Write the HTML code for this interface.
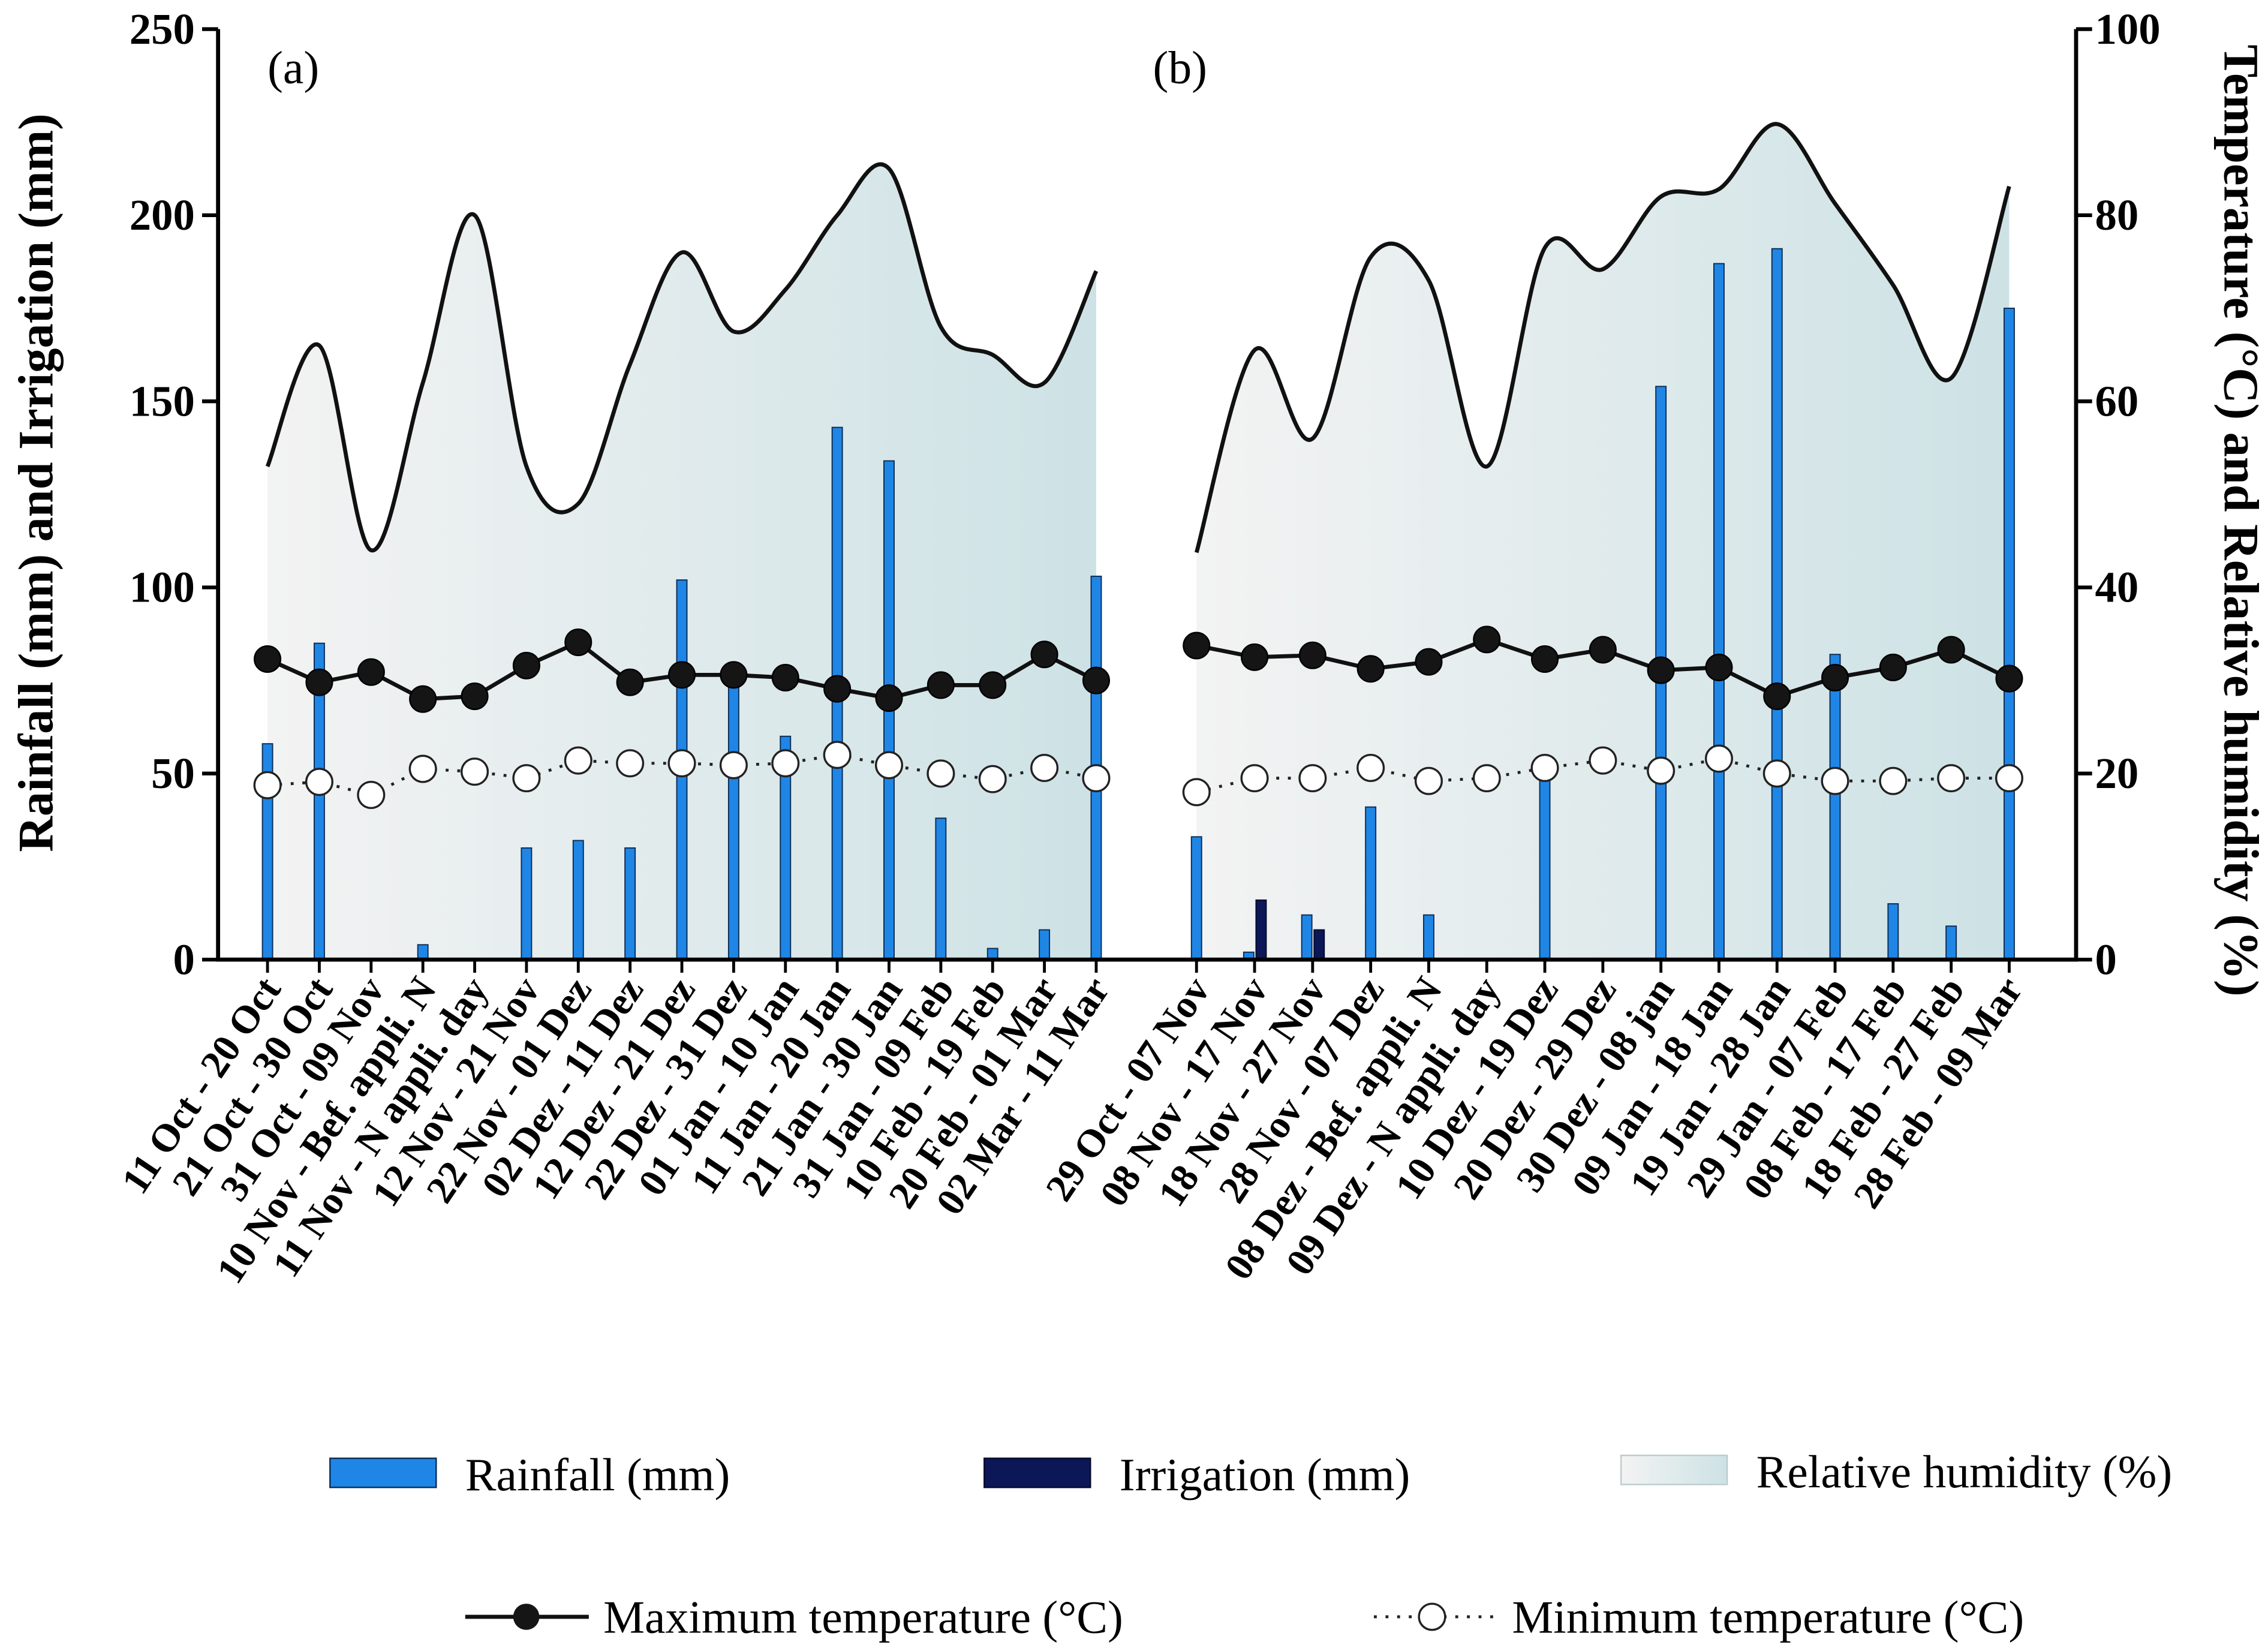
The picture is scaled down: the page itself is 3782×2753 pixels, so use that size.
<!DOCTYPE html>
<html><head><meta charset="utf-8"><style>html,body{margin:0;padding:0;background:#fff}svg{display:block}text{font-family:"Liberation Serif",serif}</style></head>
<body>
<svg id="chart" width="3782" height="2753" viewBox="0 0 1560 1135.5" xmlns="http://www.w3.org/2000/svg">
<defs>
<linearGradient id="rhg" x1="0" x2="1" y1="0" y2="0"><stop offset="0" stop-color="#f3f3f3"/><stop offset="1" stop-color="#cde2e5"/></linearGradient>
</defs>
<g id="plot"></g>
</svg>
<script>
const catsA=["11 Oct - 20 Oct","21 Oct - 30 Oct","31 Oct - 09 Nov","10 Nov - Bef. appli. N","11 Nov - N appli. day","12 Nov - 21 Nov","22 Nov - 01 Dez","02 Dez - 11 Dez","12 Dez - 21 Dez","22 Dez - 31 Dez","01 Jan - 10 Jan","11 Jan - 20 Jan","21 Jan - 30 Jan","31 Jan - 09 Feb","10 Feb - 19 Feb","20 Feb - 01 Mar","02 Mar - 11 Mar"];
const rainA=[58,85,0,4,0,30,32,30,102,77,60,143,134,38,3,8,103];
const irrA=[0,0,0,0,0,0,0,0,0,0,0,0,0,0,0,0,0];
const tmaxA=[32.3,29.8,30.9,28.0,28.3,31.6,34.1,29.8,30.6,30.6,30.3,29.1,28.1,29.5,29.5,32.8,30.0];
const tminA=[18.75,19.1,17.7,20.5,20.2,19.5,21.4,21.1,21.1,20.9,21.1,22.0,20.9,20.0,19.4,20.6,19.5];
const rhA=[53,66,44,62,80,53,49,64,76,67.5,72,80,85,68,65,62,74];
const catsB=["29 Oct - 07 Nov","08 Nov - 17 Nov","18 Nov - 27 Nov","28 Nov - 07 Dez","08 Dez - Bef. appli. N","09 Dez - N appli. day","10 Dez - 19 Dez","20 Dez - 29 Dez","30 Dez - 08 jan","09 Jan - 18 Jan","19 Jan - 28 Jan","29 Jan - 07 Feb","08 Feb - 17 Feb","18 Feb - 27 Feb","28 Feb - 09 Mar"];
const rainB=[33,2,12,41,12,0,52,0,154,187,191,82,15,9,175];
const irrB=[0,16,8,0,0,0,0,0,0,0,0,0,0,0,0];
const tmaxB=[33.75,32.5,32.7,31.25,32.0,34.4,32.3,33.3,31.1,31.4,28.3,30.3,31.4,33.3,30.2];
const tminB=[18.0,19.5,19.5,20.6,19.2,19.5,20.6,21.4,20.3,21.6,20.0,19.2,19.2,19.5,19.5];
const rhB=[43.75,65.5,56,75.5,73,53,76.5,74.2,82,82.8,89.8,81.25,72.5,62.5,83.1];
const leftTicks=[0,50,100,150,200,250];
const rightTicks=[0,20,40,60,80,100];

const NS="http://www.w3.org/2000/svg";
const g=document.getElementById('plot');
const Y0=660,YT=20,XL=150,XR=1428;
const yL=v=>Y0-(Y0-YT)*v/250;
const yR=v=>Y0-(Y0-YT)*v/100;
const xA=i=>184+i*(754-184)/16;
const xB=i=>823+i*(1382-823)/14;
function el(tag,attrs,parent){const e=document.createElementNS(NS,tag);for(const k in attrs)e.setAttribute(k,attrs[k]);(parent||g).appendChild(e);return e;}
function spline(pts){let d=`M${pts[0][0]},${pts[0][1]}`;for(let i=0;i<pts.length-1;i++){const p0=pts[i-1]||pts[i],p1=pts[i],p2=pts[i+1],p3=pts[i+2]||p2;const c1=[p1[0]+(p2[0]-p0[0])/6,p1[1]+(p2[1]-p0[1])/6],c2=[p2[0]-(p3[0]-p1[0])/6,p2[1]-(p3[1]-p1[1])/6];d+=`C${c1[0]},${c1[1]} ${c2[0]},${c2[1]} ${p2[0]},${p2[1]}`;}return d;}

function panel(name,cats,rain,irr,tmax,tmin,rh,xf){
  const n=cats.length;
  const pts=rh.map((v,i)=>[xf(i),yR(v)]);
  const sp=spline(pts);
  let e=el('path',{d:sp+`L${xf(n-1)},${Y0}L${xf(0)},${Y0}Z`,fill:'url(#rhg)',stroke:'none'});
  
  
  e=el('path',{d:sp,fill:'none',stroke:'#111',"stroke-width":2.8});
  
  
  rain.forEach((v,i)=>{
    if(v<=0)return;
    const off=irr[i]>0?-4:0;
    const b=el('rect',{x:xf(i)-3.5+off,y:yL(v),width:7,height:Y0-yL(v),fill:'#1f86e6',stroke:'#0b2d55',"stroke-width":0.8});
    
    
  });
  irr.forEach((v,i)=>{
    if(v<=0)return;
    const b=el('rect',{x:xf(i)+1,y:yL(v),width:7,height:Y0-yL(v),fill:'#0c1757',stroke:'#050a2a',"stroke-width":0.8});
    
    
  });
  e=el('polyline',{points:tmin.map((v,i)=>xf(i)+','+yR(v)).join(' '),fill:'none',stroke:'#222',"stroke-width":2,"stroke-dasharray":"2 6"});
  
  
  e=el('polyline',{points:tmax.map((v,i)=>xf(i)+','+yR(v)).join(' '),fill:'none',stroke:'#111',"stroke-width":2.8});
  
  
  tmax.forEach((v,i)=>{const c=el('circle',{cx:xf(i),cy:yR(v),r:9,fill:'#151515',stroke:'#000',"stroke-width":1});
    
    });
  tmin.forEach((v,i)=>{const c=el('circle',{cx:xf(i),cy:yR(v),r:9,fill:'#fff',stroke:'#222',"stroke-width":1.4});
    
    });
  cats.forEach((c,i)=>{
    const t=el('line',{x1:xf(i),x2:xf(i),y1:Y0,y2:Y0+9,stroke:'#000',"stroke-width":2});
    
    
    const tx=el('text',{x:0,y:0,"text-anchor":"end","font-size":27,"font-weight":"bold",transform:`translate(${xf(i)+10},${Y0+20}) rotate(-56)`});
    tx.textContent=c;
    
    
  });
}
panel('panel-a',catsA,rainA,irrA,tmaxA,tminA,rhA,xA);
panel('panel-b',catsB,rainB,irrB,tmaxB,tminB,rhB,xB);

let e=el('path',{d:`M${XL},${YT}V${Y0}H${XR}V${YT}`,fill:'none',stroke:'#000',"stroke-width":2.8});


leftTicks.forEach(v=>{
  const t=el('line',{x1:XL-11,x2:XL,y1:yL(v),y2:yL(v),stroke:'#000',"stroke-width":2.6});
  
  
  const tx=el('text',{x:134,y:yL(v)+10,"text-anchor":"end","font-size":30,"font-weight":"bold"});
  tx.textContent=v;
  
  
});
rightTicks.forEach(v=>{
  const t=el('line',{x1:XR,x2:XR+11,y1:yR(v),y2:yR(v),stroke:'#000',"stroke-width":2.6});
  
  
  const tx=el('text',{x:1441,y:yR(v)+10,"text-anchor":"start","font-size":30,"font-weight":"bold"});
  tx.textContent=v;
  
  
});
</script>
<svg style="position:absolute;left:0;top:0" width="3782" height="2753" viewBox="0 0 1560 1135.5" xmlns="http://www.w3.org/2000/svg">
<defs><linearGradient id="rhg2" x1="0" x2="1"><stop offset="0" stop-color="#f3f3f3"/><stop offset="1" stop-color="#cde2e5"/></linearGradient></defs>
<text transform="translate(36,332) rotate(-90)" text-anchor="middle" font-size="34" font-weight="bold">Rainfall (mm) and Irrigation (mm)</text>
<text transform="translate(1530,358) rotate(90)" text-anchor="middle" font-size="34" font-weight="bold">Temperature (°C) and Relative humidity (%)</text>
<text x="184" y="57" font-size="32">(a)</text>
<text x="793" y="57" font-size="32">(b)</text>
<g font-size="32">
<rect x="227" y="1003" width="73" height="20" fill="#1f86e6" stroke="#0b2d55" stroke-width="1"/>
<text x="320" y="1025">Rainfall (mm)</text>
<rect x="677" y="1003" width="73" height="20" fill="#0c1757" stroke="#050a2a" stroke-width="1"/>
<text x="770" y="1025">Irrigation (mm)</text>
<rect x="1115" y="1001" width="73" height="20" fill="url(#rhg2)" stroke="#bcc" stroke-width="1"/>
<text x="1208" y="1023">Relative humidity (%)</text>
<line x1="320" y1="1112" x2="405" y2="1112" stroke="#111" stroke-width="2.8"/>
<circle cx="362" cy="1112" r="9" fill="#151515"/>
<text x="415" y="1123">Maximum temperature (°C)</text>
<line x1="945" y1="1112" x2="1030" y2="1112" stroke="#222" stroke-width="2" stroke-dasharray="2 6"/>
<circle cx="985" cy="1112" r="9" fill="#fff" stroke="#222" stroke-width="1.4"/>
<text x="1040" y="1123">Minimum temperature (°C)</text>
</g>
</svg>
</body></html>
